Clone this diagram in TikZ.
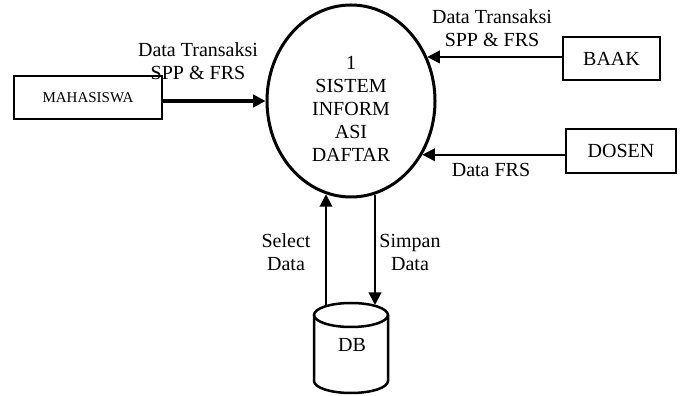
\documentclass[tikz,border=0pt]{standalone}
\usepackage{fontspec}
\setmainfont{Liberation Serif}
\usetikzlibrary{shapes.geometric,arrows.meta}
\begin{document}
\begin{tikzpicture}[x=0.6pt,y=-0.6pt,
  every node/.style={font=\fontsize{12pt}{13.8pt}\selectfont, inner sep=0pt},
  entity/.style={draw, line width=1pt, rectangle},
  flow/.style={line width=1.2pt, -{Triangle[length=7.5pt,width=7.5pt]}},
  bigflow/.style={line width=2pt, -{Triangle[length=7.5pt,width=7.5pt]}},
  lbl/.style={align=center}]
  \useasboundingbox (0,0) rectangle (683,396);

  % process bubble
  \node[ellipse, draw, line width=1.8pt, minimum width=100.8pt, minimum height=115.2pt] (sys) at (351,101) {};
  \node[align=center] (systext) at (351,109) {1\\SISTEM\\INFORM\\ASI\\DAFTAR};

  % external entities
  \node[entity, minimum width=88.8pt, minimum height=25.8pt, font=\fontsize{9pt}{10pt}\selectfont] (mhs) at (88,97.5) {MAHASISWA};
  \node[entity, minimum width=58.2pt, minimum height=25.8pt] (baak) at (611.5,58.5) {BAAK};
  \node[entity, minimum width=66pt, minimum height=26.4pt] (dosen) at (621,151) {DOSEN};

  % data store
  \draw[line width=1.5pt] (314,315) -- (314,381) arc[start angle=180, end angle=360, x radius=22.2pt, y radius=7.2pt] -- (388,315);
  \draw[line width=1.5pt] (351,315) ellipse [x radius=22.2pt, y radius=7.2pt];
  \node (db) at (352,345) {DB};
  \coordinate (dbL) at (326,305);
  \coordinate (dbR) at (375,305);

  % data flows
  \draw[bigflow] (mhs.east |- sys.west) -- (sys.west);
  \draw[flow] (baak.west |- sys.30) -- (sys.30);
  \draw[flow] (dosen.west |- sys.-37) -- (sys.-37);
  \draw[flow] (dbL) -- (dbL |- sys.255);
  \draw[flow] (dbR |- sys.284) -- (dbR);

  % flow labels
  \node[lbl] (l1) at (198,61.5) {Data Transaksi\\SPP \& FRS};
  \node[lbl] (l2) at (492,28.5) {Data Transaksi\\SPP \& FRS};
  \node[lbl] (l3) at (491,170) {Data FRS};
  \node[lbl] (l4) at (286,252.5) {Select\\Data};
  \node[lbl] (l5) at (410,252.5) {Simpan\\Data};
\end{tikzpicture}
\end{document}
